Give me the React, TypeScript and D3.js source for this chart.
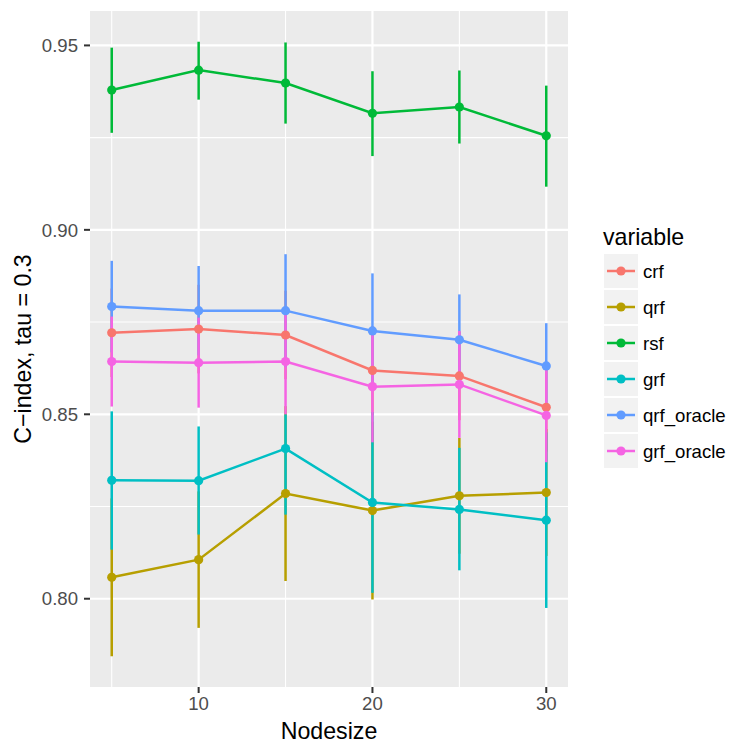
import React, { useRef, useEffect } from 'react';
import * as d3 from 'd3';

// nodesize values on the x axis
const nodesize = [5, 10, 15, 20, 25, 30];

const variables = ['crf', 'qrf', 'rsf', 'grf', 'qrf_oracle', 'grf_oracle'];
const palette = ['#F8766D', '#B79F00', '#00BA38', '#00BFC4', '#619CFF', '#F564E3'];

// C-index means and error bar ends
const crfMean = [0.8721, 0.8731, 0.8715, 0.8619, 0.8604, 0.8519];
const crfLow = [0.8601, 0.8611, 0.8595, 0.8499, 0.8484, 0.8399];
const crfHigh = [0.8841, 0.8851, 0.8835, 0.8739, 0.8724, 0.8639];

const qrfMean = [0.8058, 0.8106, 0.8285, 0.8239, 0.8279, 0.8288];
const qrfLow = [0.7844, 0.7921, 0.8048, 0.7998, 0.8122, 0.8116];
const qrfHigh = [0.8272, 0.8291, 0.8522, 0.848, 0.8436, 0.846];

const rsfMean = [0.9379, 0.9433, 0.9398, 0.9316, 0.9333, 0.9255];
const rsfLow = [0.9263, 0.9353, 0.9288, 0.92, 0.9234, 0.9117];
const rsfHigh = [0.9494, 0.951, 0.9508, 0.943, 0.9432, 0.9391];

const grfMean = [0.8321, 0.832, 0.8407, 0.8261, 0.8242, 0.8213];
const grfLow = [0.8133, 0.8174, 0.8228, 0.8016, 0.8077, 0.7975];
const grfHigh = [0.8508, 0.8467, 0.85, 0.8506, 0.8409, 0.8451];

const qrfOracleMean = [0.8792, 0.8781, 0.8781, 0.8726, 0.8702, 0.8631];
const qrfOracleLow = [0.8668, 0.866, 0.8628, 0.857, 0.8579, 0.8515];
const qrfOracleHigh = [0.8916, 0.8902, 0.8934, 0.8882, 0.8825, 0.8747];

const grfOracleMean = [0.8643, 0.864, 0.8643, 0.8575, 0.8581, 0.8497];
const grfOracleLow = [0.8521, 0.8518, 0.85, 0.8424, 0.8436, 0.837];
const grfOracleHigh = [0.8765, 0.8762, 0.8786, 0.8726, 0.8726, 0.8624];

const xTicks = [10, 20, 30];
const xMinor = [5, 15, 25];
const yTicks = [0.8, 0.85, 0.9, 0.95];
const yMinor = [0.825, 0.875, 0.925];

type Pt = { x: number; y: number; lo: number; hi: number };

const App = () => {
  const svgRef = useRef<SVGSVGElement>(null);

  useEffect(() => {
    const means = [crfMean, qrfMean, rsfMean, grfMean, qrfOracleMean, grfOracleMean];
    const lows = [crfLow, qrfLow, rsfLow, grfLow, qrfOracleLow, grfOracleLow];
    const highs = [crfHigh, qrfHigh, rsfHigh, grfHigh, qrfOracleHigh, grfOracleHigh];

    const series = variables.map((name, i) => ({
      name,
      color: palette[i],
      points: nodesize.map((x, j) => ({ x, y: means[i][j], lo: lows[i][j], hi: highs[i][j] })) as Pt[],
    }));

    const panel = { left: 90, right: 568, top: 11, bottom: 687 };

    // ggplot style 5% expansion
    const xr = d3.extent(nodesize) as [number, number];
    const xPad = (xr[1] - xr[0]) * 0.05;
    const x = d3.scaleLinear().domain([xr[0] - xPad, xr[1] + xPad]).range([panel.left, panel.right]);

    const yLo = d3.min(lows, a => d3.min(a)) as number;
    const yHi = d3.max(highs, a => d3.max(a)) as number;
    const yPad = (yHi - yLo) * 0.05;
    const y = d3.scaleLinear().domain([yLo - yPad, yHi + yPad]).range([panel.bottom, panel.top]);

    const svg = d3.select(svgRef.current);
    svg.selectAll('*').remove();

    svg.append('rect')
      .attr('width', 750).attr('height', 750).attr('fill', '#FFFFFF');

    svg.append('rect')
      .attr('x', panel.left).attr('y', panel.top)
      .attr('width', panel.right - panel.left).attr('height', panel.bottom - panel.top)
      .attr('fill', '#EBEBEB');

    const grid = svg.append('g');
    grid.selectAll('line.ymin').data(yMinor).join('line')
      .attr('x1', panel.left).attr('x2', panel.right)
      .attr('y1', d => y(d)).attr('y2', d => y(d))
      .attr('stroke', '#FFFFFF').attr('stroke-width', 1.1);
    grid.selectAll('line.xmin').data(xMinor).join('line')
      .attr('y1', panel.top).attr('y2', panel.bottom)
      .attr('x1', d => x(d)).attr('x2', d => x(d))
      .attr('stroke', '#FFFFFF').attr('stroke-width', 1.1);
    grid.selectAll('line.ymaj').data(yTicks).join('line')
      .attr('x1', panel.left).attr('x2', panel.right)
      .attr('y1', d => y(d)).attr('y2', d => y(d))
      .attr('stroke', '#FFFFFF').attr('stroke-width', 2.2);
    grid.selectAll('line.xmaj').data(xTicks).join('line')
      .attr('y1', panel.top).attr('y2', panel.bottom)
      .attr('x1', d => x(d)).attr('x2', d => x(d))
      .attr('stroke', '#FFFFFF').attr('stroke-width', 2.2);

    // error bars first, then lines, then points
    const bars = svg.append('g');
    series.forEach(s => {
      bars.selectAll(null).data(s.points).join('line')
        .attr('x1', d => x(d.x)).attr('x2', d => x(d.x))
        .attr('y1', d => y(d.lo)).attr('y2', d => y(d.hi))
        .attr('stroke', s.color).attr('stroke-width', 2.5);
    });

    const lineGen = d3.line<Pt>().x(d => x(d.x)).y(d => y(d.y));
    const lines = svg.append('g');
    series.forEach(s => {
      lines.append('path')
        .attr('d', lineGen(s.points))
        .attr('fill', 'none')
        .attr('stroke', s.color)
        .attr('stroke-width', 2.5);
    });

    const dots = svg.append('g');
    series.forEach(s => {
      dots.selectAll(null).data(s.points).join('circle')
        .attr('cx', d => x(d.x)).attr('cy', d => y(d.y))
        .attr('r', 4.6).attr('fill', s.color);
    });

    // axes
    const font = "'Liberation Sans', Arial, sans-serif";
    const small = 18.6;
    const big = 23.2;
    const axisG = svg.append('g').attr('font-family', font);

    axisG.selectAll('line.yt').data(yTicks).join('line')
      .attr('x1', panel.left - 6).attr('x2', panel.left)
      .attr('y1', d => y(d)).attr('y2', d => y(d))
      .attr('stroke', '#333333').attr('stroke-width', 2);
    axisG.selectAll('text.yt').data(yTicks).join('text')
      .attr('x', panel.left - 12).attr('y', d => y(d))
      .attr('dy', '0.36em')
      .attr('text-anchor', 'end')
      .attr('font-size', small)
      .attr('fill', '#4D4D4D')
      .text(d => d3.format('.2f')(d));

    axisG.selectAll('line.xt').data(xTicks).join('line')
      .attr('x1', d => x(d)).attr('x2', d => x(d))
      .attr('y1', panel.bottom).attr('y2', panel.bottom + 6)
      .attr('stroke', '#333333').attr('stroke-width', 2);
    axisG.selectAll('text.xt').data(xTicks).join('text')
      .attr('x', d => x(d)).attr('y', panel.bottom + 23)
      .attr('text-anchor', 'middle')
      .attr('font-size', small)
      .attr('fill', '#4D4D4D')
      .text(d => String(d));

    axisG.append('text')
      .attr('x', (panel.left + panel.right) / 2).attr('y', 739)
      .attr('text-anchor', 'middle')
      .attr('font-size', big)
      .attr('fill', '#000000')
      .text('Nodesize');

    axisG.append('text')
      .attr('transform', `translate(31,${(panel.top + panel.bottom) / 2}) rotate(-90)`)
      .attr('text-anchor', 'middle')
      .attr('font-size', big)
      .attr('fill', '#000000')
      .text('C\u2212index, tau = 0.3');

    // legend
    const legend = svg.append('g').attr('font-family', font);
    legend.append('text')
      .attr('x', 603).attr('y', 245)
      .attr('font-size', big)
      .attr('fill', '#000000')
      .text('variable');

    const keys = legend.selectAll('g.key').data(series).join('g')
      .attr('transform', (d, i) => `translate(604,${254 + i * 36})`);
    keys.append('rect')
      .attr('width', 34).attr('height', 34)
      .attr('fill', '#F2F2F2');
    keys.append('line')
      .attr('x1', 3).attr('x2', 31).attr('y1', 17).attr('y2', 17)
      .attr('stroke', d => d.color).attr('stroke-width', 2.5);
    keys.append('circle')
      .attr('cx', 17).attr('cy', 17).attr('r', 4.6)
      .attr('fill', d => d.color);
    keys.append('text')
      .attr('x', 39).attr('y', 17).attr('dy', '0.36em')
      .attr('font-size', small)
      .attr('fill', '#000000')
      .text(d => d.name);
  }, []);

  return (
    <svg
      ref={svgRef}
      width={750}
      height={750}
      style={{ position: 'absolute', left: 0, top: 0 }}
    />
  );
};

export default App;
